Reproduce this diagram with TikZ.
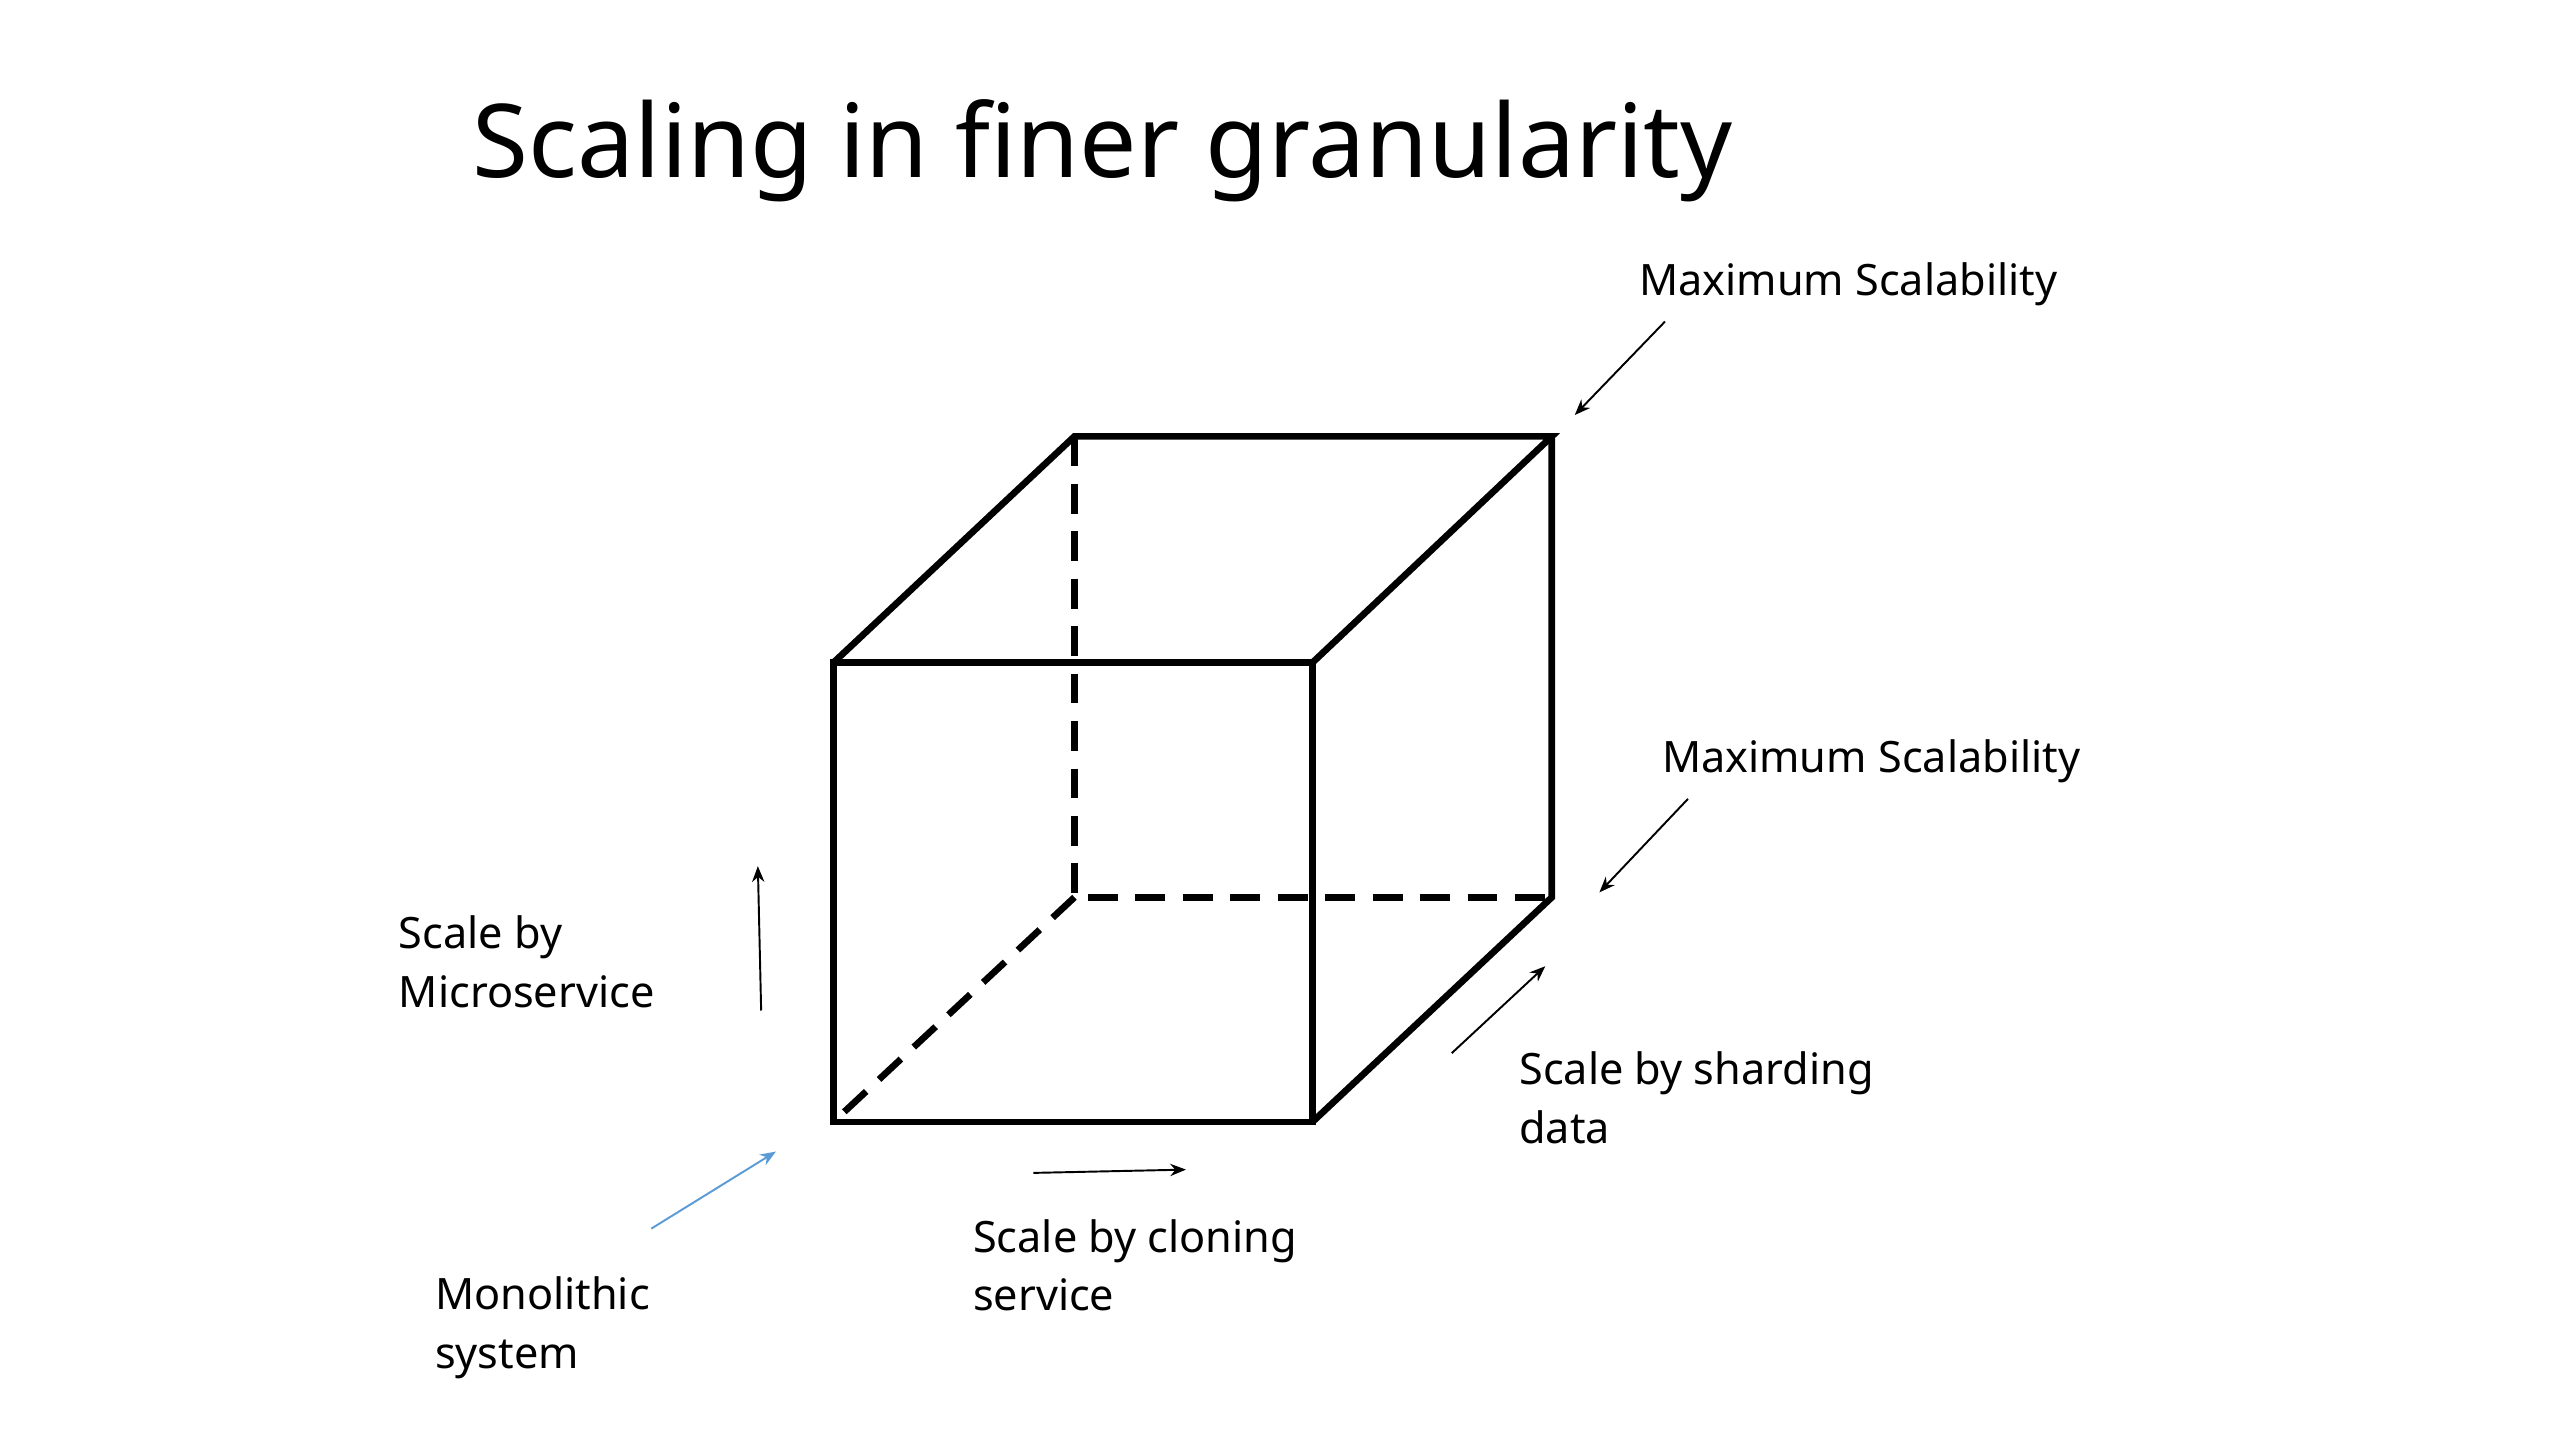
\documentclass[tikz,border=0pt]{standalone}
\usepackage{fontspec}
\setmainfont{Noto Sans}
\usetikzlibrary{arrows.meta}
\begin{document}
\begin{tikzpicture}[x=0.0328cm,y=-0.0328cm,
 cube/.style={line width=3.8pt},
 dcube/.style={line width=3.8pt,dash pattern=on 17pt off 10pt},
 arr/.style={line width=1.1pt,-{Stealth[length=9pt,width=7pt]}},
 lab/.style={font=\fontsize{24.6}{33.5}\selectfont,align=left,inner sep=0pt}]
\useasboundingbox (0,0) rectangle (1560,877);
\node[inner sep=0pt,anchor=west,font=\fontsize{58}{66}\selectfont] (title) at (288,92) {Scaling in finer granularity};
\coordinate (a) at (508,404); \coordinate (b) at (800,404);
\coordinate (c) at (800,684); \coordinate (d) at (508,684);
\coordinate (e) at (655,266); \coordinate (f) at (946,266);
\coordinate (g) at (946,547); \coordinate (h) at (655,547);
\draw[dcube] (e) -- (h) -- (g);
\draw[dcube] (h) -- (d);
\draw[cube] (a) -- (b) -- (c) -- (d) -- cycle;
\draw[cube] (a) -- (e) -- (f) -- (b);
\draw[cube] (f) -- (g) -- (c);
\node[lab,anchor=west] (m1) at (999,173) {Maximum Scalability};
\node[lab,anchor=west] (m2) at (1013,464) {Maximum Scalability};
\node[lab,anchor=north west] (sh) at (926,641) {Scale by sharding\\data};
\node[lab,anchor=north west] (cl) at (593,743) {Scale by cloning\\service};
\node[lab,anchor=north west] (mi) at (243,558) {Scale by\\Microservice};
\node[lab,anchor=north west] (mo) at (265,778) {Monolithic\\system};
\coordinate (m1s) at (1015,196); \coordinate (m1e) at (960,253);
\coordinate (m2s) at (1029,487); \coordinate (m2e) at (975,544);
\coordinate (shs) at (885,642); \coordinate (she) at (942,589);
\coordinate (cls) at (630,715); \coordinate (cle) at (723,713);
\coordinate (mis) at (464,616); \coordinate (mie) at (462,528);
\coordinate (mos) at (397,749); \coordinate (moe) at (473,702);
\draw[arr] (m1s) -- (m1e);
\draw[arr] (m2s) -- (m2e);
\draw[arr] (shs) -- (she);
\draw[arr] (cls) -- (cle);
\draw[arr] (mis) -- (mie);
\draw[arr,color={rgb,255:red,91;green,155;blue,213}] (mos) -- (moe);
\end{tikzpicture}
\end{document}
